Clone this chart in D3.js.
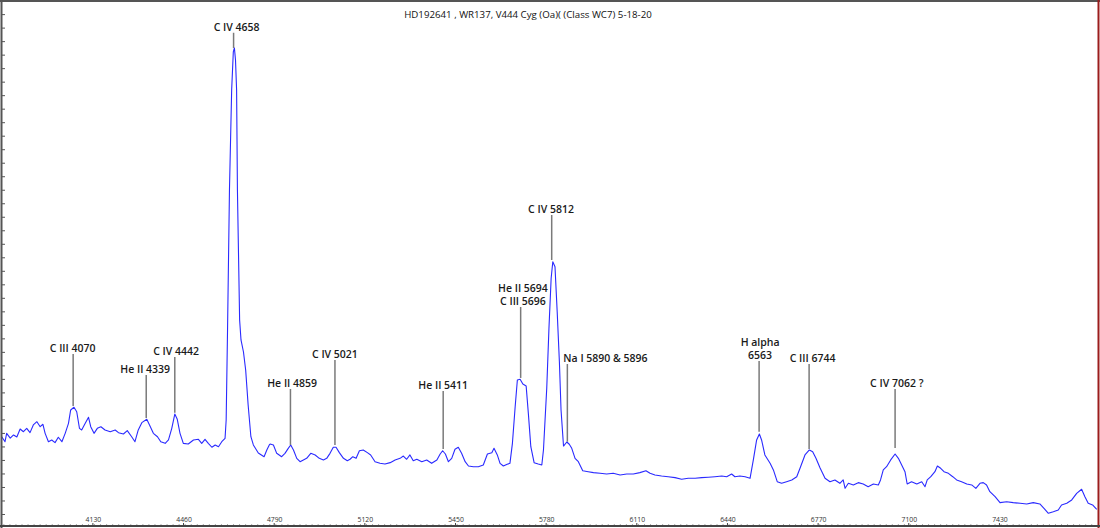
<!DOCTYPE html>
<html><head><meta charset="utf-8">
<script src="https://cdn.jsdelivr.net/npm/d3@7"></script>
<style>html,body{margin:0;padding:0;background:#fff;overflow:hidden}</style>
</head><body>
<svg id="c" width="1100" height="528"></svg>
<script>
// ---- data ----
const chartTitle = "HD192641 , WR137, V444 Cyg (Oa)( (Class WC7) 5-18-20";
const xTickValues = [4130, 4460, 4790, 5120, 5450, 5780, 6110, 6440, 6770, 7100, 7430];
const wavelength = [3800,3812,3818,3831,3843,3855,3867,3879,3891,3903,3915,3928,3940,3950,3958,3970,3982,3994,4006,4019,4031,4043,4051,4063,4073,4083,4091,4104,4116,4124,4136,4148,4161,4176,4195,4213,4225,4243,4257,4273,4285,4297,4310,4328,4338,4352,4367,4379,4395,4407,4419,4430,4439,4449,4461,4479,4498,4516,4528,4540,4552,4565,4577,4589,4601,4613,
4617,4622,4629,4637,4643,4647,4651,4655,4658,4666,4671,4680,4688,4697,4707,4716,4734,4755,4765,4774,4777,4789,
4801,4819,4831,4843,4852,4862,4874,4886,4898,4910,4925,4941,4956,4971,4983,4995,5007,5017,5029,5044,5058,5068,5078,5090,5102,5116,5131,5143,5159,5177,5195,5214,5232,5250,5262,5274,5286,5298,5311,5329,5347,5365,5384,5396,5405,5415,5426,5438,5450,5462,5474,5487,5499,5517,5535,5553,5568,5584,5592,5604,5614,5626,5640,5650,5659,5669,5677,5687,5697,5709,5717,5726,5738,5753,5766,
5772,5784,5792,5800,5806,5814,5822,5830,5836,5845,5857,5866,5875,5887,5899,5915,5935,5954,5978,6002,6026,6051,6075,6099,6123,6145,6160,6178,6202,6226,6251,6275,6299,6324,6348,6372,6396,6421,6439,6457,6469,6487,6506,6524,6536,6548,6558,6566,6578,6597,6609,6623,6639,6657,6676,6694,6708,6724,6740,6752,6764,6779,
6797,6815,6833,6851,6863,6870,6882,6900,6918,6936,6954,6973,6991,6999,7009,7021,7036,7052,7064,7076,7088,7096,7112,7131,7149,7161,7169,7182,7197,7206,7218,7230,7246,7262,7276,7294,7313,7331,7346,7361,7373,7385,7397,7416,7434,7458,7482,7507,7531,7555,7579,7594,7610,7628,7646,7658,7677,7695,7713,7731,7743,7755,7771,7786];
const flux = [6.72,6.35,6.97,6.62,6.85,6.70,7.29,7.09,7.34,7.02,7.59,7.83,7.46,7.64,6.97,6.35,6.48,6.28,6.68,6.35,6.97,7.71,8.70,8.90,8.57,7.34,7.22,7.71,8.16,7.46,6.97,7.34,7.46,7.22,7.09,7.22,7.02,6.92,7.17,6.72,6.35,7.22,7.76,8.01,7.59,6.97,6.72,6.35,6.23,6.48,7.34,8.40,8.01,6.97,6.23,6.18,6.48,6.53,6.23,6.53,6.23,5.94,6.11,5.98,6.35,6.60,
7.96,14.62,24.98,32.38,35.20,35.49,34.60,32.38,24.98,15.36,13.88,12.99,11.66,9.07,6.72,6.11,5.51,5.24,5.74,6.11,6.18,6.11,
5.49,5.24,5.49,5.86,6.11,5.74,5.12,4.87,5.00,5.12,5.49,5.37,5.12,5.00,5.12,5.49,5.94,5.94,5.54,5.12,4.94,5.05,5.24,5.12,5.68,5.74,5.54,5.37,4.87,4.75,4.70,4.80,5.00,5.12,5.29,5.05,5.37,4.94,5.05,4.87,5.00,4.75,5.00,5.44,5.68,5.44,4.87,5.12,5.79,5.94,5.49,4.87,4.55,4.50,4.50,4.63,5.44,5.54,5.86,5.37,4.75,4.55,4.68,4.75,6.23,8.94,10.92,10.97,10.62,10.47,8.45,5.98,4.80,4.70,4.63,
5.74,10.33,14.74,18.45,19.67,19.30,15.97,12.27,8.70,6.03,6.33,6.16,5.86,5.12,4.87,4.20,4.13,4.06,4.01,3.96,4.01,3.89,3.96,3.96,4.06,4.20,4.01,3.89,3.81,3.76,3.69,3.57,3.64,3.64,3.69,3.72,3.76,3.81,3.76,3.96,3.76,3.81,3.76,3.64,5.00,6.48,6.92,6.48,5.37,4.75,4.26,3.39,3.27,3.39,3.52,3.76,4.50,5.37,5.74,5.61,5.12,4.40,
3.64,3.39,3.52,3.27,3.52,2.90,3.27,3.15,3.32,3.22,3.02,3.22,3.15,3.52,4.26,4.50,5.00,5.44,5.12,4.63,4.13,3.22,3.39,3.22,3.39,3.02,3.52,3.76,4.13,4.55,4.38,4.13,4.01,3.76,3.52,3.39,3.22,3.15,2.90,3.27,3.32,3.15,2.65,2.28,1.84,1.91,1.84,1.79,1.74,1.84,1.74,1.42,1.05,1.17,1.30,1.67,1.79,2.04,2.53,2.83,2.28,1.79,1.67,1.35];

// line identifications
const annLabels = [["C III 4070"],["He II 4339"],["C IV 4442"],["C IV 4658"],["He II 4859"],["C IV 5021"],["He II 5411"],["He II 5694","C III 5696"],["C IV 5812"],["Na I 5890 & 5896"],["H alpha","6563"],["C III 6744"],["C IV 7062 ?"]];
const annLambda = [4060,4326,4430,4644,4851,5013,5407,5689,5802,5859,6557,6739,7052];
const annTop =    [12.84,11.29,12.62,36.62,10.25,12.40,10.10,16.32,23.13,12.10,12.32,12.10,10.25];
const annBottom = [8.99,8.10,8.50,35.49,6.11,6.11,5.81,11.07,19.80,6.35,7.09,5.81,5.88];

// ---- layout ----
const W = 1100, H = 528;
const x = d3.scaleLinear().domain([3801, 7787]).range([2, 1097]);
const y = d3.scaleLinear().domain([0, 39]).range([527.5, 0.6]);
const labelDx = [-0.5,-1,1.3,3,1.7,0,0,2.3,-0.7,-4,1,3.5,1.7];
const labelAnchor = ["middle","middle","middle","middle","middle","middle","middle","middle","middle","start","middle","middle","middle"];

const svg = d3.select("#c");
svg.append("rect").attr("width",W).attr("height",H).attr("fill","#fff");

// title
svg.append("text").attr("x",528).attr("y",18).attr("text-anchor","middle")
  .attr("font-family","'Open Sans', 'DejaVu Sans', sans-serif").attr("font-size",9.7)
  .attr("fill","#111").text(chartTitle);

// spectrum
const pts = wavelength.map((w,i)=>[w, flux[i]]);
svg.append("path").datum(pts)
  .attr("d", d3.line().x(d=>x(d[0])).y(d=>y(d[1])))
  .attr("fill","none").attr("stroke","#2a2aff").attr("stroke-width",1.1)
  .attr("stroke-linejoin","round");

// annotations
const ann = svg.append("g");
annLabels.forEach((lines,i)=>{
  const lx = x(annLambda[i]);
  ann.append("line").attr("x1",lx).attr("x2",lx)
    .attr("y1",y(annTop[i])).attr("y2",y(annBottom[i]))
    .attr("stroke","#7a7a7a").attr("stroke-width",1.5);
  const t = ann.append("text")
    .attr("font-family","'Open Sans', 'DejaVu Sans', sans-serif")
    .attr("font-size",10.5).attr("font-weight",600).attr("fill","#1a1a1a")
    .attr("text-anchor",labelAnchor[i]);
  const n = lines.length;
  lines.forEach((s,j)=>{
    t.append("tspan").attr("x",lx+labelDx[i])
      .attr("y",y(annTop[i]) - 2 - (n-1-j)*13.5).text(s);
  });
});

// frame
svg.append("line").attr("x1",0).attr("x2",W).attr("y1",1).attr("y2",1).attr("stroke","#555").attr("stroke-width",2);
svg.append("line").attr("x1",1.5).attr("x2",1.5).attr("y1",0).attr("y2",H).attr("stroke","#555").attr("stroke-width",2);
svg.append("line").attr("x1",1098.5).attr("x2",1098.5).attr("y1",0).attr("y2",H).attr("stroke","#9b1c1c").attr("stroke-width",2);

// left axis (ticks only)
const yAxis = d3.axisRight(y).tickValues(d3.range(1,39)).tickSize(3).tickFormat("");
const gy = svg.append("g").attr("transform","translate(2,0)").call(yAxis);
gy.select(".domain").remove();
gy.selectAll(".tick line").attr("stroke","#555");

// bottom axis
const minorTicks = d3.range(3806, 7787, 22);
const gxm = svg.append("g").attr("transform","translate(0,526)")
  .call(d3.axisTop(x).tickValues(minorTicks).tickSize(1.5).tickFormat(""));
gxm.select(".domain").remove();
gxm.selectAll(".tick line").attr("stroke","#555");
const gx = svg.append("g").attr("transform","translate(0,526)")
  .call(d3.axisTop(x).tickValues(xTickValues).tickSize(3).tickPadding(0).tickFormat(d3.format("d")));
gx.select(".domain").attr("stroke","#444").attr("stroke-width",2).attr("d","M0,0H1100");
gx.selectAll(".tick line").attr("stroke","#444");
gx.selectAll(".tick text").attr("font-family","'Open Sans', 'DejaVu Sans', sans-serif")
  .attr("font-size",6.8).attr("fill","#333").attr("dy",0).attr("y",-4).attr("dx",0.5);
</script>
</body></html>
